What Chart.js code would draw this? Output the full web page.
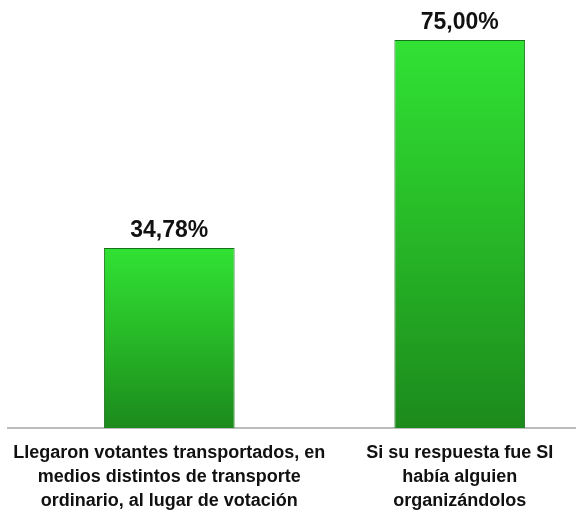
<!DOCTYPE html>
<html>
<head>
<meta charset="utf-8">
<script src="https://cdn.jsdelivr.net/npm/chart.js@4"></script>
<style>
  html, body { margin: 0; padding: 0; background: #fff; overflow: hidden; }
  #wrap { position: relative; left: -10px; width: 640px; height: 511px; }
</style>
</head>
<body>
<div id="wrap"><canvas id="myChart"></canvas></div>
<script>
// categories and values
const categories = [
  ['Llegaron votantes transportados, en', 'medios distintos de transporte', 'ordinario, al lugar de votación'],
  ['Si su respuesta fue SI', 'había alguien', 'organizándolos']
];
const percentages = [34.78, 75.00];

// draws the "34,78%" labels above each bar
const valueLabels = {
  id: 'valueLabels',
  afterDatasetsDraw(chart) {
    const ctx = chart.ctx;
    const meta = chart.getDatasetMeta(0);
    ctx.save();
    ctx.font = 'bold 23px "Liberation Sans", Arial, sans-serif';
    ctx.fillStyle = '#111';
    ctx.textAlign = 'center';
    ctx.textBaseline = 'alphabetic';
    meta.data.forEach((bar, i) => {
      const txt = percentages[i].toFixed(2).replace('.', ',') + '%';
      ctx.fillText(txt, bar.x, bar.y - 11);
    });
    ctx.restore();
  }
};

// baseline across the whole width
const baseLine = {
  id: 'baseLine',
  beforeDatasetsDraw(chart) {
    const ctx = chart.ctx;
    const y = chart.scales.y.getPixelForValue(0);
    ctx.save();
    ctx.strokeStyle = '#a6a6a6';
    ctx.lineWidth = 1.5;
    ctx.beginPath();
    ctx.moveTo(17, y);
    ctx.lineTo(chart.width, y);
    ctx.stroke();
    ctx.restore();
  }
};

const ctx = document.getElementById('myChart');

new Chart(ctx, {
  type: 'bar',
  data: {
    labels: categories,
    datasets: [{
      data: percentages,
      backgroundColor: function (c) {
        const area = c.chart.chartArea;
        if (!area || c.raw === undefined) return '#2ad42a';
        const top = c.chart.scales.y.getPixelForValue(c.raw);
        const g = c.chart.ctx.createLinearGradient(0, top, 0, area.bottom);
        g.addColorStop(0, '#31e234');
        g.addColorStop(0.5, '#27b827');
        g.addColorStop(1, '#1c8a1c');
        return g;
      },
      borderColor: '#187018',
      borderWidth: 1,
      barPercentage: 0.9,
      categoryPercentage: 0.5
    }]
  },
  options: {
    responsive: true,
    maintainAspectRatio: false,
    animation: false,
    layout: { padding: { top: 14, left: 34, right: 25, bottom: 0 } },
    plugins: {
      legend: { display: false },
      tooltip: { enabled: false }
    },
    scales: {
      x: {
        grid: { display: false, drawTicks: false },
        border: { display: false },
        afterFit: function (scale) { scale.height = 83; },
        ticks: {
          color: '#111',
          padding: 13,
          maxRotation: 0,
          autoSkip: false,
          font: { family: '"Liberation Sans", Arial, sans-serif', size: 18, weight: 'bold', lineHeight: 1.333 }
        }
      },
      y: {
        display: false,
        min: 0,
        max: 80
      }
    }
  },
  plugins: [baseLine, valueLabels]
});
</script>
</body>
</html>
